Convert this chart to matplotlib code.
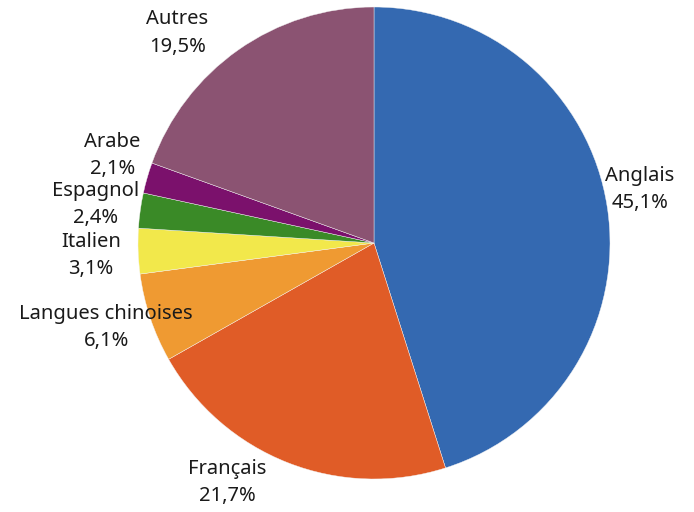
import matplotlib.pyplot as plt
import numpy as np

langues = ['Anglais', 'Français', 'Langues chinoises', 'Italien', 'Espagnol', 'Arabe', 'Autres']
parts = [45.1, 21.7, 6.1, 3.1, 2.4, 2.1, 19.5]
couleurs = ['#3469B1', '#E05C27', '#EF9A32', '#F2E84B', '#3A8A27', '#7B116C', '#8B5372']

# label placement: extra rotation (deg) and distance from centre, in radii
decalage = [2.5, -10, -1, 0.5, 0, -2.5, 8]
distance = [1.15, 1.19, 1.19, 1.2, 1.19, 1.17, 1.22]

plt.rcParams['font.family'] = ['Noto Sans', 'DejaVu Sans']

fig = plt.figure(figsize=(6.94, 5.12), dpi=100)
ax = fig.add_axes([(374 - 236) / 694, (512 - 243 - 236) / 512, 472 / 694, 472 / 512])

wedges, _ = ax.pie(parts, colors=couleurs, startangle=90, counterclock=False,
                   wedgeprops=dict(edgecolor='#f4f4f4', linewidth=0.3))

for w, nom, p, d, r in zip(wedges, langues, parts, decalage, distance):
    ang = np.deg2rad((w.theta1 + w.theta2) / 2 + d)
    txt = f"{nom}\n{p:.1f}%".replace('.', ',')
    ax.text(r * np.cos(ang), r * np.sin(ang), txt, ha='center', va='center',
            fontsize=14.5, linespacing=1.5, color='#1a1a1a')

ax.set_xlim(-1, 1)
ax.set_ylim(-1, 1)
ax.set_aspect('equal')
ax.axis('off')

fig.savefig('out.png', dpi=100)
